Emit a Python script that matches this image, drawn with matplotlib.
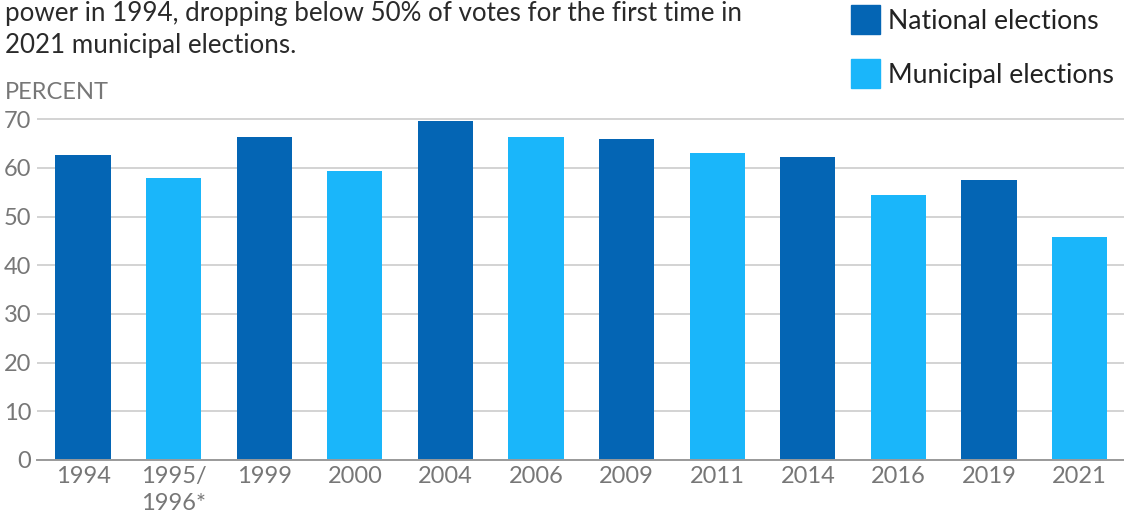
import matplotlib.pyplot as plt
import numpy as np

plt.rcParams['font.family'] = ['Lato', 'DejaVu Sans']

# ANC vote share by election
years = ['1994', '1995/\n1996*', '1999', '2000', '2004', '2006',
         '2009', '2011', '2014', '2016', '2019', '2021']
kinds = ['national', 'municipal', 'national', 'municipal', 'national', 'municipal',
         'national', 'municipal', 'national', 'municipal', 'national', 'municipal']
percent = [62.6, 58.0, 66.4, 59.4, 69.7, 66.3, 65.9, 63.0, 62.2, 54.5, 57.5, 45.8]

colors = {'national': '#0465b4', 'municipal': '#1ab6fa'}
labels = {'national': 'National elections', 'municipal': 'Municipal elections'}

W, H = 1124, 519
fig = plt.figure(figsize=(W / 100, H / 100), dpi=100)

# axes box in pixels: left 37, bottom at y=460, top at 70 -> y=119
y0, ppu = 460, 4.87
ymax = 70.3
ax = fig.add_axes([37 / W, (H - y0) / H, 1 - 37 / W, ymax * ppu / H])

x = np.arange(len(years))
ax.bar(x, percent, width=0.61, color=[colors[k] for k in kinds], zorder=3)

ax.set_xlim(-0.508, 11.49)
ax.set_ylim(0, ymax)
ax.set_yticks(range(0, 71, 10))
ax.set_xticks(x)
ax.set_xticklabels(years, linespacing=1.35)
ax.tick_params(axis='both', length=0, labelsize=17, labelcolor='#777777')
ax.tick_params(axis='y', pad=4)
ax.tick_params(axis='x', pad=4)
ax.grid(axis='y', color='#d3d3d3', linewidth=1.4, zorder=0)
for s in ['top', 'right', 'left']:
    ax.spines[s].set_visible(False)
ax.spines['bottom'].set_color('#9a9a9a')
ax.spines['bottom'].set_linewidth(1.4)
ax.spines['bottom'].set_zorder(4)

# heading lines, the first one sits partly above the canvas
fig.text(5 / W, 1 - 21 / H, 'power in 1994, dropping below 50% of votes for the first time in',
         fontsize=18.7, color='#2a2a2a', va='baseline', ha='left')
fig.text(5 / W, 1 - 53 / H, '2021 municipal elections.',
         fontsize=18.7, color='#2a2a2a', va='baseline', ha='left')
fig.text(5 / W, 1 - 99 / H, 'PERCENT', fontsize=17, color='#777777',
         va='baseline', ha='left')

# legend swatches
for i, k in enumerate(['national', 'municipal']):
    top = 5 + i * 54
    fig.patches.append(plt.Rectangle((851 / W, 1 - (top + 29) / H), 29 / W, 29 / H,
                                     transform=fig.transFigure, color=colors[k]))
    fig.text(888 / W, 1 - (top + 17) / H, labels[k], fontsize=19.2, color='#222222',
             va='center', ha='left')

fig.savefig('out.png', dpi=100)
